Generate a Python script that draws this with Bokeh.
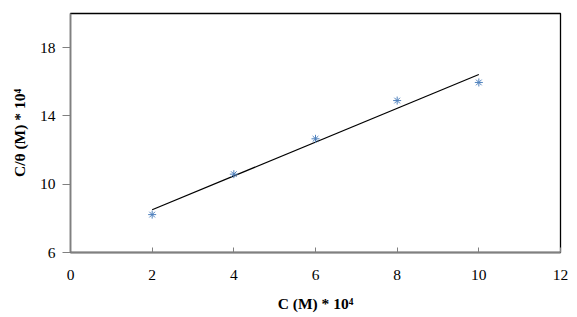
from bokeh.plotting import figure
from bokeh.models import Range1d, FixedTicker
from bokeh.embed import file_html
from bokeh.resources import INLINE
import numpy as np

# Data
conc = [2, 4, 6, 8, 10]                 # C (M) * 10^4
c_over_theta = [8.22, 10.59, 12.66, 14.9, 15.96]  # C/theta (M) * 10^4
x_ticks = [0, 2, 4, 6, 8, 10, 12]
y_ticks = [6, 10, 14, 18]

# Linear fit (trend line)
slope, intercept = np.polyfit(conc, c_over_theta, 1)
fit_x = [min(conc), max(conc)]
fit_y = [slope * v + intercept for v in fit_x]

FONT = "Liberation Serif"

p = figure(width=569, height=314, output_backend="svg", toolbar_location=None,
           x_range=Range1d(0, 12), y_range=Range1d(6, 20),
           min_border_left=70, min_border_right=9, min_border_top=13, min_border_bottom=62)

p.line(fit_x, fit_y, line_color="black", line_width=1.2)
p.scatter(conc, c_over_theta, marker="asterisk", size=8, line_color="#4F81BD", line_width=1)

p.xgrid.visible = False
p.ygrid.visible = False
p.outline_line_color = "black"
p.outline_line_width = 1.3
p.background_fill_color = "white"
p.border_fill_color = "white"

p.xaxis.ticker = FixedTicker(ticks=x_ticks)
p.yaxis.ticker = FixedTicker(ticks=y_ticks)
for ax in (p.xaxis, p.yaxis):
    ax.axis_line_color = "#808080"
    ax.axis_line_width = 1.5
    ax.major_tick_line_color = "#808080"
    ax.minor_tick_line_color = None
    ax.major_label_text_font = FONT
    ax.major_label_text_font_size = "15.5px"
    ax.major_label_text_color = "black"
    ax.axis_label_text_font = FONT
    ax.axis_label_text_font_size = "15.5px"
    ax.axis_label_text_font_style = "bold"
    ax.axis_label_text_color = "black"

p.xaxis.major_tick_in = 5
p.xaxis.major_tick_out = 0
p.xaxis.major_label_standoff = 17
p.xaxis.axis_label = "C (M) * 10\u2074"
p.xaxis.axis_label_standoff = 12

p.yaxis.major_tick_in = 0
p.yaxis.major_tick_out = 8
p.yaxis.major_label_standoff = 7
p.yaxis.axis_label = "C/\u03b8 (M) * 10\u2074"
p.yaxis.axis_label_standoff = 9

open("out.html", "w").write(file_html(p, INLINE))
